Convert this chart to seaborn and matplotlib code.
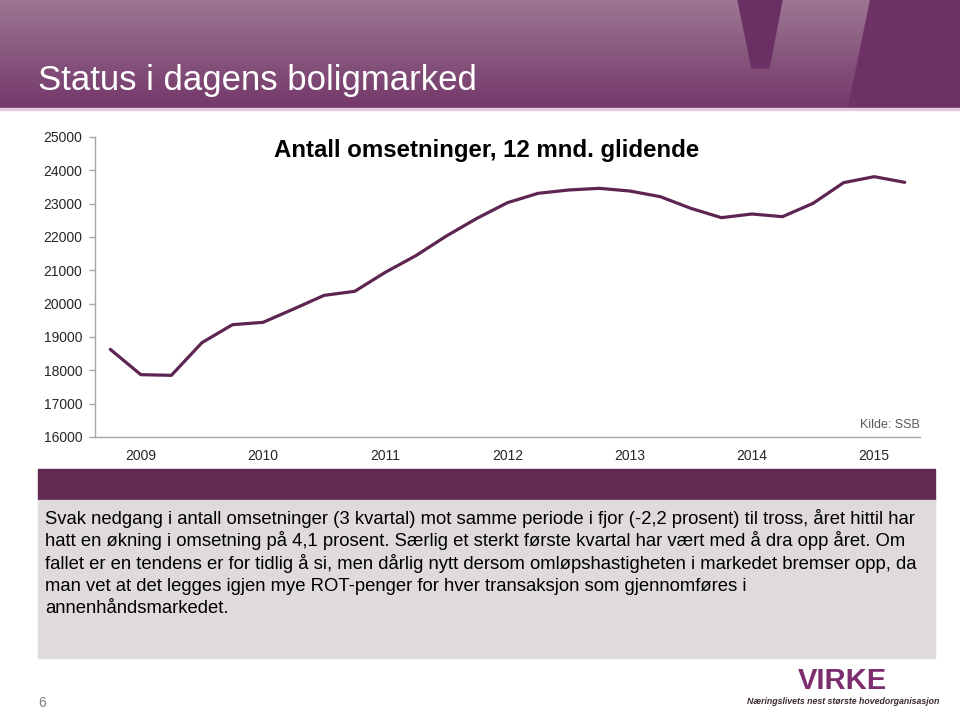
import numpy as np
import pandas as pd
import seaborn as sns
import matplotlib.pyplot as plt
from matplotlib.patches import Polygon, Rectangle

# data (12 mnd. glidende, kvartalsvis)
quarters = ['2008K4', '2009K1', '2009K2', '2009K3', '2009K4', '2010K1', '2010K2',
            '2010K3', '2010K4', '2011K1', '2011K2', '2011K3', '2011K4', '2012K1',
            '2012K2', '2012K3', '2012K4', '2013K1', '2013K2', '2013K3', '2013K4',
            '2014K1', '2014K2', '2014K3', '2014K4', '2015K1', '2015K2']
omsetninger = [18630, 17870, 17850, 18830, 19370, 19440, 19840, 20250, 20370,
               20940, 21440, 22030, 22560, 23030, 23310, 23410, 23460, 23380,
               23210, 22860, 22580, 22690, 22610, 23010, 23630, 23810, 23640]
year_labels = ['2009', '2010', '2011', '2012', '2013', '2014', '2015']
y_ticks = [16000, 17000, 18000, 19000, 20000, 21000, 22000, 23000, 24000, 25000]

body_lines = [
    "Svak nedgang i antall omsetninger (3 kvartal) mot samme periode i fjor (-2,2 prosent) til tross, året hittil har",
    "hatt en økning i omsetning på 4,1 prosent. Særlig et sterkt første kvartal har vært med å dra opp året. Om",
    "fallet er en tendens er for tidlig å si, men dårlig nytt dersom omløpshastigheten i markedet bremser opp, da",
    "man vet at det legges igjen mye ROT-penger for hver transaksjon som gjennomføres i",
    "annenhåndsmarkedet.",
]

df = pd.DataFrame({'kvartal': quarters, 'antall': omsetninger})
df['pos'] = range(len(df))

sns.set_style("white")
plt.rcParams['font.family'] = ['Liberation Sans', 'DejaVu Sans']

W, H = 960, 717
fig = plt.figure(figsize=(W / 100, H / 100), dpi=100)

# slide background in pixel coordinates
bg = fig.add_axes([0, 0, 1, 1])
bg.set_xlim(0, W)
bg.set_ylim(H, 0)
bg.axis('off')

top_col = np.array([0x9c, 0x77, 0x92]) / 255
bot_col = np.array([0x74, 0x38, 0x6a]) / 255
t = np.linspace(0, 1, 108)[:, None, None]
grad = top_col * (1 - t) + bot_col * t
bg.imshow(grad, extent=(0, W, 108, 0), aspect='auto', origin='upper', zorder=0)
bg.add_patch(Polygon([(738, 0), (782, 0), (769, 68), (752, 68)], color='#6b3063', zorder=1))
bg.add_patch(Polygon([(870, 0), (960, 0), (960, 108), (848, 108)], color='#6d3166', zorder=1))
bg.add_patch(Rectangle((0, 108), W, 2, color='#e6cadd', zorder=1))
bg.set_xlim(0, W)
bg.set_ylim(H, 0)

bg.text(38, 90, "Status i dagens boligmarked", color='white', fontsize=25,
        va='baseline', ha='left')

# purple band and grey text box
bg.add_patch(Rectangle((38, 469), 897, 31, color='#622953', zorder=1))
bg.add_patch(Rectangle((38, 500), 897, 158, color='#dfdbdb', zorder=1))
for i, line in enumerate(body_lines):
    bg.text(45, 524 + i * 22.3, line, fontsize=13.3, color='black', va='baseline', ha='left')

bg.text(38, 703, "6", fontsize=10, color='#7f7f7f', va='center', ha='left')

# VIRKE logo approximation
bg.text(842, 681, "VIRKE", fontsize=21, fontweight='bold', color='#7b2d6f',
        va='center', ha='center')
bg.text(843, 702, "Næringslivets nest største hovedorganisasjon", fontsize=6.3,
        style='italic', fontweight='bold', color='#3a2a35', va='center', ha='center')

# chart title
bg.text(487, 150, "Antall omsetninger, 12 mnd. glidende", fontsize=17.3,
        fontweight='bold', color='black', va='center', ha='center')
bg.text(920, 425, "Kilde: SSB", fontsize=9, color='#595959', va='center', ha='right')

# the line chart
ax = fig.add_axes([95 / W, 1 - 437 / H, 825 / W, 300 / H])
ax.patch.set_alpha(0)
sns.lineplot(data=df, x='pos', y='antall', ax=ax, color='#5e2452', linewidth=2.3)
ax.set_xlim(-0.5, len(quarters) - 0.5)
ax.set_ylim(16000, 25000)
ax.set_yticks(y_ticks)
ax.set_yticklabels([str(v) for v in y_ticks], fontsize=10)
ax.set_xticks([1, 5, 9, 13, 17, 21, 25])
ax.set_xticklabels(year_labels, fontsize=10)
ax.set_xticks([3.5, 7.5, 11.5, 15.5, 19.5, 23.5], minor=True)
ax.tick_params(axis='x', which='major', length=0, pad=9)
ax.tick_params(axis='x', which='minor', length=4, direction='in', color='#a6a6a6', width=1)
ax.tick_params(axis='y', length=4, direction='out', color='#a6a6a6', width=1, pad=5, left=True)
ax.set_xlabel('')
ax.set_ylabel('')
for side in ['top', 'right']:
    ax.spines[side].set_visible(False)
for side in ['left', 'bottom']:
    ax.spines[side].set_color('#a6a6a6')
    ax.spines[side].set_linewidth(1)

fig.savefig('out.png', dpi=100)
